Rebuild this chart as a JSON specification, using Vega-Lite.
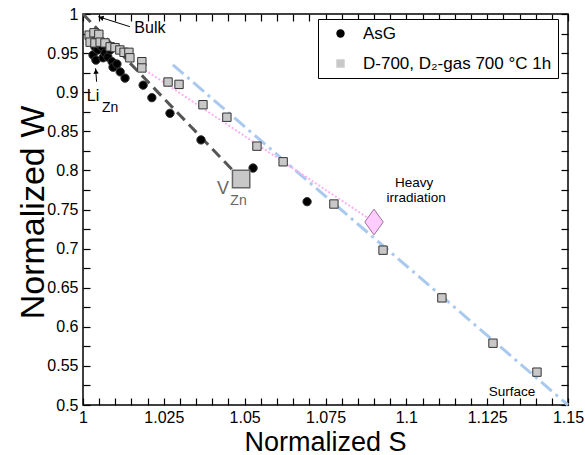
{
  "$schema": "https://vega.github.io/schema/vega-lite/v6.json",
  "width": 485,
  "height": 391,
  "autosize": {"type": "none"},
  "padding": {"left": 83, "top": 14, "right": 17, "bottom": 50},
  "config": {
    "font": "Liberation Sans",
    "view": {"stroke": "black", "strokeWidth": 1.5},
    "axis": {"grid": false, "domain": false, "labelFont": "Liberation Sans", "titleFont": "Liberation Sans", "labelColor": "black", "titleColor": "black", "zindex": 1}
  },
  "datasets": {
    "pts": [
      {"S": 1.0031, "W": 0.9476, "series": "AsG"},
      {"S": 1.0037, "W": 0.958, "series": "AsG"},
      {"S": 1.0046, "W": 0.954, "series": "AsG"},
      {"S": 1.0053, "W": 0.960, "series": "AsG"},
      {"S": 1.0059, "W": 0.958, "series": "AsG"},
      {"S": 1.0040, "W": 0.941, "series": "AsG"},
      {"S": 1.0062, "W": 0.944, "series": "AsG"},
      {"S": 1.0068, "W": 0.950, "series": "AsG"},
      {"S": 1.0077, "W": 0.945, "series": "AsG"},
      {"S": 1.0084, "W": 0.954, "series": "AsG"},
      {"S": 1.0090, "W": 0.939, "series": "AsG"},
      {"S": 1.0093, "W": 0.932, "series": "AsG"},
      {"S": 1.0105, "W": 0.936, "series": "AsG"},
      {"S": 1.0115, "W": 0.926, "series": "AsG"},
      {"S": 1.0130, "W": 0.918, "series": "AsG"},
      {"S": 1.0186, "W": 0.909, "series": "AsG"},
      {"S": 1.0213, "W": 0.893, "series": "AsG"},
      {"S": 1.0269, "W": 0.873, "series": "AsG"},
      {"S": 1.0365, "W": 0.839, "series": "AsG"},
      {"S": 1.0526, "W": 0.803, "series": "AsG"},
      {"S": 1.0693, "W": 0.760, "series": "AsG"},
      {"S": 1.0019, "W": 0.973, "series": "D-700, D₂-gas 700 °C 1h"},
      {"S": 1.0034, "W": 0.976, "series": "D-700, D₂-gas 700 °C 1h"},
      {"S": 1.0049, "W": 0.974, "series": "D-700, D₂-gas 700 °C 1h"},
      {"S": 1.0022, "W": 0.964, "series": "D-700, D₂-gas 700 °C 1h"},
      {"S": 1.0037, "W": 0.963, "series": "D-700, D₂-gas 700 °C 1h"},
      {"S": 1.0053, "W": 0.964, "series": "D-700, D₂-gas 700 °C 1h"},
      {"S": 1.0068, "W": 0.963, "series": "D-700, D₂-gas 700 °C 1h"},
      {"S": 1.0084, "W": 0.958, "series": "D-700, D₂-gas 700 °C 1h"},
      {"S": 1.0099, "W": 0.957, "series": "D-700, D₂-gas 700 °C 1h"},
      {"S": 1.0114, "W": 0.954, "series": "D-700, D₂-gas 700 °C 1h"},
      {"S": 1.0127, "W": 0.951, "series": "D-700, D₂-gas 700 °C 1h"},
      {"S": 1.0142, "W": 0.951, "series": "D-700, D₂-gas 700 °C 1h"},
      {"S": 1.0145, "W": 0.944, "series": "D-700, D₂-gas 700 °C 1h"},
      {"S": 1.0182, "W": 0.939, "series": "D-700, D₂-gas 700 °C 1h"},
      {"S": 1.0182, "W": 0.931, "series": "D-700, D₂-gas 700 °C 1h"},
      {"S": 1.0263, "W": 0.913, "series": "D-700, D₂-gas 700 °C 1h"},
      {"S": 1.0297, "W": 0.910, "series": "D-700, D₂-gas 700 °C 1h"},
      {"S": 1.0371, "W": 0.884, "series": "D-700, D₂-gas 700 °C 1h"},
      {"S": 1.0445, "W": 0.868, "series": "D-700, D₂-gas 700 °C 1h"},
      {"S": 1.0538, "W": 0.831, "series": "D-700, D₂-gas 700 °C 1h"},
      {"S": 1.0619, "W": 0.811, "series": "D-700, D₂-gas 700 °C 1h"},
      {"S": 1.0776, "W": 0.757, "series": "D-700, D₂-gas 700 °C 1h"},
      {"S": 1.0928, "W": 0.698, "series": "D-700, D₂-gas 700 °C 1h"},
      {"S": 1.1110, "W": 0.637, "series": "D-700, D₂-gas 700 °C 1h"},
      {"S": 1.1268, "W": 0.579, "series": "D-700, D₂-gas 700 °C 1h"},
      {"S": 1.1404, "W": 0.542, "series": "D-700, D₂-gas 700 °C 1h"}
    ],
    "dashed": [{"S": 1.0, "W": 1.0}, {"S": 1.0489, "W": 0.789}],
    "dashdot": [{"S": 1.0278, "W": 0.935}, {"S": 1.15, "W": 0.5}],
    "dotted": [{"S": 1.0192, "W": 0.9284}, {"S": 1.090, "W": 0.734}],
    "vzn": [{"S": 1.0489, "W": 0.789}],
    "heavy": [{"S": 1.090, "W": 0.734}],
    "bigtext": [{"S": 1.0207, "W": 0.9821, "t": "Bulk"}, {"S": 1.0031, "W": 0.8951, "t": "Li"}],
    "smalltext": [{"S": 1.1024, "W": 0.7839, "t": "Heavy"}, {"S": 1.103, "W": 0.7647, "t": "irradiation"}, {"S": 1.1327, "W": 0.5166, "t": "Surface"}],
    "subtext": [{"S": 1.0084, "W": 0.880, "t": "Zn"}],
    "vtext": [{"S": 1.0433, "W": 0.7762, "t": "V"}],
    "vsub": [{"S": 1.0481, "W": 0.7609, "t": "Zn"}],
    "arrows": [{"S": 1.0145, "W": 0.9838, "S2": 1.0047, "W2": 0.9966}, {"S": 1.0042, "W": 0.9134, "S2": 1.0039, "W2": 0.9306}],
    "headBulk": [{"S": 1.0056, "W": 0.9954}],
    "headLi": [{"S": 1.004, "W": 0.9267}]
  },
  "resolve": {"axis": {"x": "independent", "y": "independent"}},
  "layer": [
    {
      "data": {"name": "dashed"},
      "mark": {"type": "line", "color": "#555555", "strokeWidth": 3, "strokeDash": [11, 6]},
      "encoding": {
        "x": {"field": "S", "type": "quantitative", "scale": {"domain": [1, 1.15], "nice": false, "zero": false},
          "axis": {"orient": "bottom", "values": [1, 1.005, 1.01, 1.015, 1.02, 1.025, 1.03, 1.035, 1.04, 1.045, 1.05, 1.055, 1.06, 1.065, 1.07, 1.075, 1.08, 1.085, 1.09, 1.095, 1.1, 1.105, 1.11, 1.115, 1.12, 1.125, 1.13, 1.135, 1.14, 1.145, 1.15],
            "labelExpr": "abs(datum.value*40 - round(datum.value*40)) < 0.001 ? format(datum.value, '.4~g') : ''",
            "ticks": true, "tickSize": -7, "tickColor": "black", "tickWidth": 1.2,
            "encode": {"ticks": {"update": {"y2": {"signal": "abs(datum.value*40 - round(datum.value*40)) < 0.001 ? -7 : -4"}}}},
            "labelFontSize": 16, "labelPadding": 11, "labelFlush": false, "labelOverlap": false,
            "title": "Normalized S", "titleFontSize": 27, "titleFontWeight": "normal", "titleX": 242, "titleY": 45, "titleBaseline": "alphabetic", "titleAlign": "center"}},
        "y": {"field": "W", "type": "quantitative", "scale": {"domain": [0.5, 1], "nice": false, "zero": false},
          "axis": {"orient": "left", "values": [0.5, 0.525, 0.55, 0.575, 0.6, 0.625, 0.65, 0.675, 0.7, 0.725, 0.75, 0.775, 0.8, 0.825, 0.85, 0.875, 0.9, 0.925, 0.95, 0.975, 1],
            "labelExpr": "abs(datum.value*20 - round(datum.value*20)) < 0.001 ? format(datum.value, '~g') : ''",
            "ticks": true, "tickSize": -7, "tickColor": "black", "tickWidth": 1.2,
            "encode": {"ticks": {"update": {"x2": {"signal": "abs(datum.value*20 - round(datum.value*20)) < 0.001 ? 7 : 4"}}}},
            "labelFontSize": 16, "labelPadding": 12, "labelFlush": false, "labelOverlap": false,
            "title": "Normalized W", "titleFontSize": 34, "titleFontWeight": "normal", "titleAngle": -90, "titleX": -40, "titleY": 198, "titleBaseline": "alphabetic", "titleAlign": "center"}}
      }
    },
    {
      "data": {"name": "dashdot"},
      "mark": {"type": "line", "color": "#a9c9ef", "strokeWidth": 3, "strokeDash": [14, 5, 3, 5]},
      "encoding": {
        "x": {"field": "S", "type": "quantitative", "scale": {"domain": [1, 1.15], "nice": false, "zero": false},
          "axis": {"orient": "top", "values": [1, 1.005, 1.01, 1.015, 1.02, 1.025, 1.03, 1.035, 1.04, 1.045, 1.05, 1.055, 1.06, 1.065, 1.07, 1.075, 1.08, 1.085, 1.09, 1.095, 1.1, 1.105, 1.11, 1.115, 1.12, 1.125, 1.13, 1.135, 1.14, 1.145, 1.15],
            "labels": false, "ticks": true, "tickSize": -7, "tickColor": "black", "tickWidth": 1.2, "title": null,
            "encode": {"ticks": {"update": {"y2": {"signal": "abs(datum.value*40 - round(datum.value*40)) < 0.001 ? 7 : 4"}}}}}},
        "y": {"field": "W", "type": "quantitative", "scale": {"domain": [0.5, 1], "nice": false, "zero": false},
          "axis": {"orient": "right", "values": [0.5, 0.525, 0.55, 0.575, 0.6, 0.625, 0.65, 0.675, 0.7, 0.725, 0.75, 0.775, 0.8, 0.825, 0.85, 0.875, 0.9, 0.925, 0.95, 0.975, 1],
            "labels": false, "ticks": true, "tickSize": -7, "tickColor": "black", "tickWidth": 1.2, "title": null,
            "encode": {"ticks": {"update": {"x2": {"signal": "abs(datum.value*20 - round(datum.value*20)) < 0.001 ? -7 : -4"}}}}}}
      }
    },
    {
      "data": {"name": "dotted"},
      "mark": {"type": "line", "color": "#ffb0f2", "strokeWidth": 2, "strokeDash": [2, 2]},
      "encoding": {
        "x": {"field": "S", "type": "quantitative", "axis": null},
        "y": {"field": "W", "type": "quantitative", "axis": null}
      }
    },
    {
      "data": {"name": "pts"},
      "mark": {"type": "point", "filled": true, "size": 70, "stroke": "#333333", "strokeWidth": 1, "opacity": 1},
      "encoding": {
        "x": {"field": "S", "type": "quantitative", "axis": null},
        "y": {"field": "W", "type": "quantitative", "axis": null},
        "shape": {"field": "series", "type": "nominal", "scale": {"domain": ["AsG", "D-700, D₂-gas 700 °C 1h"], "range": ["circle", "square"]},
          "legend": {"title": null, "orient": "none", "legendX": 235, "legendY": 5, "padding": 6, "fillColor": "white", "strokeColor": "black", "labelFontSize": 17, "labelFont": "Liberation Sans", "labelColor": "black", "labelLimit": 400, "symbolSize": 70, "symbolStrokeColor": "#333333", "symbolStrokeWidth": 1, "symbolOffset": 8, "labelOffset": 14, "rowPadding": 12}},
        "fill": {"field": "series", "type": "nominal", "scale": {"domain": ["AsG", "D-700, D₂-gas 700 °C 1h"], "range": ["black", "#c8c8c8"]},
          "legend": {"title": null, "orient": "none", "legendX": 235, "legendY": 5, "padding": 6, "fillColor": "white", "strokeColor": "black", "labelFontSize": 17, "labelFont": "Liberation Sans", "labelColor": "black", "labelLimit": 400, "symbolSize": 70, "symbolStrokeColor": "#333333", "symbolStrokeWidth": 1, "symbolOffset": 8, "labelOffset": 14, "rowPadding": 12}}
      }
    },
    {
      "data": {"name": "vzn"},
      "mark": {"type": "point", "shape": "square", "filled": true, "size": 300, "fill": "#c8c8c8", "stroke": "#666666", "strokeWidth": 1.5, "opacity": 1},
      "encoding": {
        "x": {"field": "S", "type": "quantitative", "axis": null},
        "y": {"field": "W", "type": "quantitative", "axis": null}
      }
    },
    {
      "data": {"name": "heavy"},
      "mark": {"type": "point", "shape": "M0,-1.4L1,0L0,1.4L-1,0Z", "filled": true, "size": 340, "fill": "#ffccff", "stroke": "#a070a0", "strokeWidth": 1, "opacity": 1},
      "encoding": {
        "x": {"field": "S", "type": "quantitative", "axis": null},
        "y": {"field": "W", "type": "quantitative", "axis": null}
      }
    },
    {
      "data": {"name": "arrows"},
      "mark": {"type": "rule", "color": "black", "strokeWidth": 1},
      "encoding": {
        "x": {"field": "S", "type": "quantitative", "axis": null},
        "y": {"field": "W", "type": "quantitative", "axis": null},
        "x2": {"field": "S2"},
        "y2": {"field": "W2"}
      }
    },
    {
      "data": {"name": "headBulk"},
      "mark": {"type": "point", "shape": "triangle-up", "filled": true, "size": 30, "color": "black", "angle": 287.5, "opacity": 1},
      "encoding": {
        "x": {"field": "S", "type": "quantitative", "axis": null},
        "y": {"field": "W", "type": "quantitative", "axis": null}
      }
    },
    {
      "data": {"name": "headLi"},
      "mark": {"type": "point", "shape": "triangle-up", "filled": true, "size": 30, "color": "black", "angle": 356, "opacity": 1},
      "encoding": {
        "x": {"field": "S", "type": "quantitative", "axis": null},
        "y": {"field": "W", "type": "quantitative", "axis": null}
      }
    },
    {
      "data": {"name": "bigtext"},
      "mark": {"type": "text", "fontSize": 16, "color": "black", "align": "center", "baseline": "middle"},
      "encoding": {
        "x": {"field": "S", "type": "quantitative", "axis": null},
        "y": {"field": "W", "type": "quantitative", "axis": null},
        "text": {"field": "t"}
      }
    },
    {
      "data": {"name": "smalltext"},
      "mark": {"type": "text", "fontSize": 13.5, "color": "black", "align": "center", "baseline": "middle"},
      "encoding": {
        "x": {"field": "S", "type": "quantitative", "axis": null},
        "y": {"field": "W", "type": "quantitative", "axis": null},
        "text": {"field": "t"}
      }
    },
    {
      "data": {"name": "subtext"},
      "mark": {"type": "text", "fontSize": 14, "color": "black", "align": "center", "baseline": "middle"},
      "encoding": {
        "x": {"field": "S", "type": "quantitative", "axis": null},
        "y": {"field": "W", "type": "quantitative", "axis": null},
        "text": {"field": "t"}
      }
    },
    {
      "data": {"name": "vtext"},
      "mark": {"type": "text", "fontSize": 18, "color": "#666666", "align": "center", "baseline": "middle"},
      "encoding": {
        "x": {"field": "S", "type": "quantitative", "axis": null},
        "y": {"field": "W", "type": "quantitative", "axis": null},
        "text": {"field": "t"}
      }
    },
    {
      "data": {"name": "vsub"},
      "mark": {"type": "text", "fontSize": 14, "color": "#666666", "align": "center", "baseline": "middle"},
      "encoding": {
        "x": {"field": "S", "type": "quantitative", "axis": null},
        "y": {"field": "W", "type": "quantitative", "axis": null},
        "text": {"field": "t"}
      }
    }
  ]
}
